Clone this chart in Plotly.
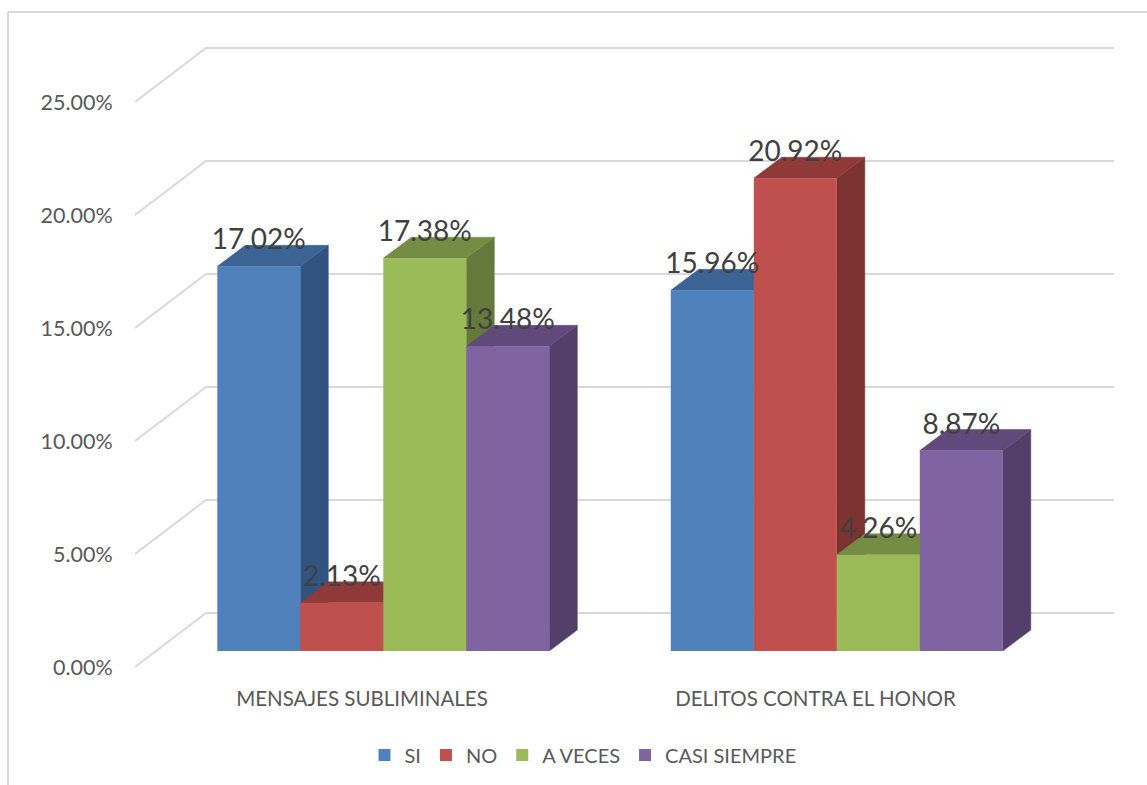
import plotly.graph_objects as go

categories = ["MENSAJES SUBLIMINALES", "DELITOS CONTRA EL HONOR"]
series_names = ["SI", "NO", "A VECES", "CASI SIEMPRE"]
si_values = [17.02, 15.96]
no_values = [2.13, 20.92]
a_veces_values = [17.38, 4.26]
casi_siempre_values = [13.48, 8.87]
tick_values = [0, 5, 10, 15, 20, 25]
tick_labels = ["0.00%", "5.00%", "10.00%", "15.00%", "20.00%", "25.00%"]

all_values = [si_values, no_values, a_veces_values, casi_siempre_values]
front_colors = ["#4f81bd", "#c0504d", "#9bbb59", "#8064a2"]
top_colors = ["#3b6494", "#8f3a38", "#758c44", "#604a7b"]
side_colors = ["#31537f", "#7b3230", "#64793a", "#533f69"]
grid_color = "#d9d9d9"
text_color = "#595959"
label_color = "#404040"
font = "Lato"

W, H = 1147, 785
PX_PER_CAT = 453.5
PX_PER_PCT = 22.6
L, R, T, B = 135, 1114, 40, 679   # plot rectangle, pixels
X0_PX, Y0_PX = 362, 667           # where category 0 / value 0 fall


def dx(px):
    return px / PX_PER_CAT


def dy(px):
    return px / PX_PER_PCT


wall_dx, wall_dy = dx(71), dy(54)
bar_dx, bar_dy = dx(28), dy(21)
setback_x, floor = dx(21.3), dy(16)
bar_w = dx(83)

x_range = [(L - X0_PX) / PX_PER_CAT, (R - X0_PX) / PX_PER_CAT]
y_range = [(Y0_PX - B) / PX_PER_PCT, (Y0_PX - T) / PX_PER_PCT]
wall_x = x_range[0]

fig = go.Figure()

# walls: diagonal on side wall, then horizontal on back wall
gx, gy = [], []
for v in tick_values:
    gx += [wall_x, wall_x + wall_dx, x_range[1], None]
    gy += [v, v + wall_dy, v + wall_dy, None]
fig.add_trace(go.Scatter(x=gx, y=gy, mode="lines", showlegend=False, hoverinfo="skip",
                         line=dict(color=grid_color, width=2), zorder=0))

for s, (name, values) in enumerate(zip(series_names, all_values)):
    xs = [c + setback_x + (s - 1.5) * bar_w for c in range(len(categories))]
    z = 2 * s + 1
    for x, v in zip(xs, values):
        xl, xr = x - bar_w / 2, x + bar_w / 2
        top = floor + v
        fig.add_trace(go.Scatter(
            x=[xr, xr + bar_dx, xr + bar_dx, xr, xr],
            y=[floor, floor + bar_dy, top + bar_dy, top, floor],
            mode="lines", fill="toself", fillcolor=side_colors[s],
            line=dict(color=side_colors[s], width=0.5),
            showlegend=False, hoverinfo="skip", zorder=z))
        fig.add_trace(go.Scatter(
            x=[xl, xr, xr + bar_dx, xl + bar_dx, xl],
            y=[top, top, top + bar_dy, top + bar_dy, top],
            mode="lines", fill="toself", fillcolor=top_colors[s],
            line=dict(color=top_colors[s], width=0.5),
            showlegend=False, hoverinfo="skip", zorder=z))
    fig.add_trace(go.Bar(
        x=xs, y=values, base=[floor] * len(values), width=bar_w, name=name,
        marker=dict(color=front_colors[s], line=dict(width=0)), zorder=z + 1))

label_x, label_y, label_text = [], [], []
for s, values in enumerate(all_values):
    for c, v in enumerate(values):
        label_x.append(c + setback_x + (s - 1.5) * bar_w)
        label_y.append(floor + v + dy(24))
        label_text.append(f"{v:.2f}%")
fig.add_trace(go.Scatter(
    x=label_x, y=label_y, text=label_text, mode="text", textposition="middle center",
    textfont=dict(family=font, size=28, color=label_color),
    showlegend=False, hoverinfo="skip", zorder=50))

pw, ph = R - L, B - T


def px_x(p):
    return (p - L) / pw


def px_y(p):
    return (B - p) / ph


fig.update_layout(
    width=W, height=H, autosize=False,
    margin=dict(l=L, r=W - R, t=T, b=H - B, pad=0, autoexpand=False),
    paper_bgcolor="white", plot_bgcolor="white",
    barmode="overlay", showlegend=True,
    font=dict(family=font, color=text_color),
    xaxis=dict(range=x_range, tickvals=list(range(len(categories))), ticktext=categories,
               showgrid=False, zeroline=False, showline=False,
               ticks="outside", ticklen=1, tickcolor="rgba(0,0,0,0)",
               tickfont=dict(family=font, size=20.5, color=text_color)),
    yaxis=dict(range=y_range, tickvals=tick_values, ticktext=tick_labels,
               showgrid=False, zeroline=False, showline=False,
               ticks="outside", ticklen=17, tickcolor="rgba(0,0,0,0)",
               tickfont=dict(family=font, size=21.5, color=text_color)),
    legend=dict(orientation="h", xanchor="center", yanchor="middle",
                x=px_x(583), y=px_y(755), bgcolor="rgba(0,0,0,0)",
                font=dict(family=font, size=20, color=text_color),
                traceorder="normal"),
    shapes=[
        dict(type="line", xref="paper", yref="paper", x0=px_x(8), x1=px_x(W), y0=px_y(12), y1=px_y(12),
             line=dict(color=grid_color, width=2), layer="below"),
        dict(type="line", xref="paper", yref="paper", x0=px_x(8), x1=px_x(8), y0=px_y(12), y1=px_y(H),
             line=dict(color=grid_color, width=2), layer="below"),
    ],
)

fig.write_html("out.html", config={"displayModeBar": False},
               post_script="document.body.style.margin='0';document.body.style.overflow='hidden';")
